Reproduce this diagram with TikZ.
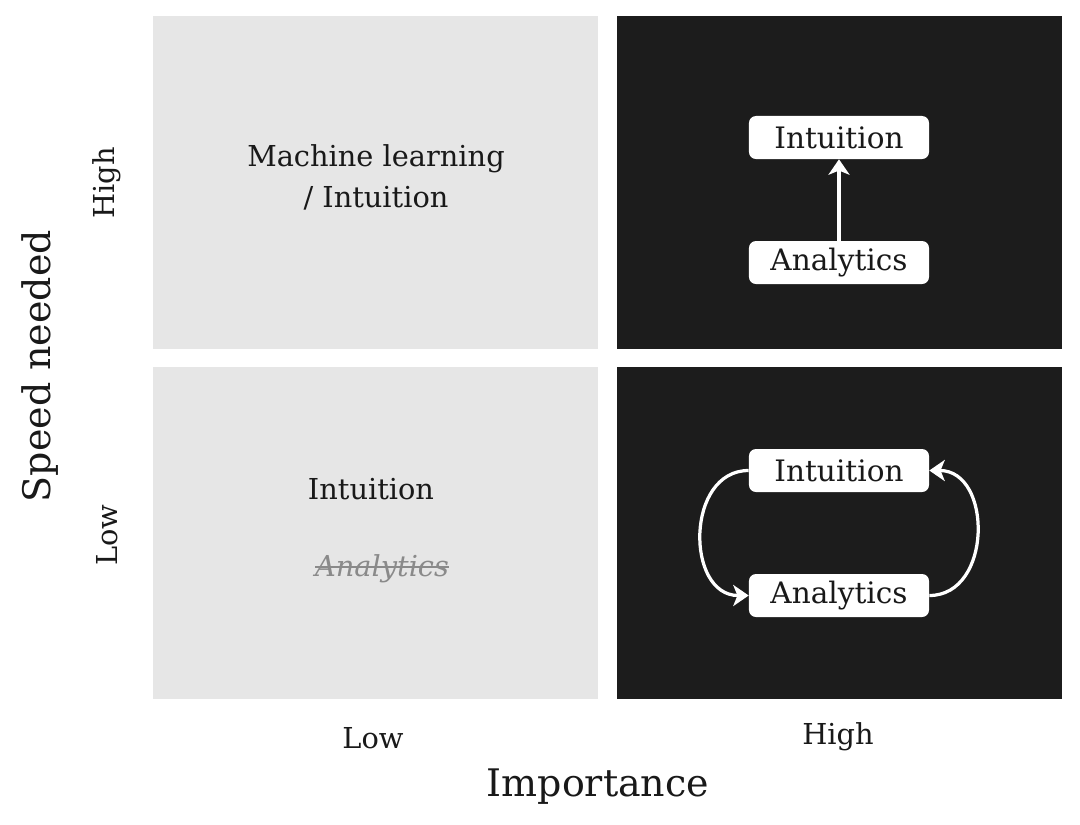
\documentclass[tikz,border=0pt]{standalone}
\usepackage{fontspec}
\setmainfont{DejaVu Serif}
\usetikzlibrary{arrows.meta}
\definecolor{lightq}{HTML}{E6E6E6}
\definecolor{darkq}{HTML}{1C1C1C}
\definecolor{struck}{HTML}{8A8A8A}
\newcommand{\crossout}[1]{\setbox0\hbox{#1}\rlap{\raisebox{0.3em}{\rule{\wd0}{1.4pt}}}\box0}
\tikzset{
  quad/.style={inner sep=0, minimum width=11.125cm, minimum height=8.3cm},
  lbl/.style={font=\fontsize{20.5}{29}\selectfont, text=black!90, align=center},
  axis/.style={font=\fontsize{27}{32}\selectfont, text=black!90},
  tag/.style={fill=white, rounded corners=5pt, inner sep=0, minimum width=4.5cm,
    minimum height=1.075cm, font=\fontsize{21}{25}\selectfont, text=black!90},
  flow/.style={white, line width=2.3pt, -{Stealth[length=11pt,width=15pt,inset=3pt]}}
}
\begin{document}
\begin{tikzpicture}[x=0.025cm, y=-0.025cm]
  \useasboundingbox (0,0) rectangle (1080,824);
  % quadrants
  \node[quad, fill=lightq] (tl) at (375.5, 182.5) {};
  \node[quad, fill=darkq] (tr) at (839.5, 182.5) {};
  \node[quad, fill=lightq] (bl) at (375.5, 533) {};
  \node[quad, fill=darkq] (br) at (839.5, 533) {};
  % low importance
  \node[lbl] (ml) at (376, 177) {Machine learning\\/ Intuition};
  \node[lbl] (int) at (371, 489) {Intuition};
  \node[lbl, text=struck, font=\fontsize{20.5}{25}\selectfont\itshape] (ana) at (382, 569) {\crossout{Analytics}};
  % high importance, high speed
  \node[tag] (i1) at (839, 137.5) {Intuition};
  \node[tag] (a1) at (839, 262.5) {Analytics};
  \draw[flow] (a1) -- (i1);
  % high importance, low speed
  \node[tag] (i2) at (839, 470.5) {Intuition};
  \node[tag] (a2) at (839, 595.5) {Analytics};
  \draw[flow] (i2.west) to[out=180, in=180, looseness=1.3] (a2.west);
  \draw[flow] (a2.east) to[out=0, in=0, looseness=1.3] (i2.east);
  % axes
  \node[lbl, rotate=90] (yhi) at (107, 183) {High};
  \node[lbl, rotate=90] (ylo) at (107, 535) {Low};
  \node[axis, rotate=90] (yax) at (40, 366) {Speed needed};
  \node[lbl] (xlo) at (373, 738) {Low};
  \node[lbl] (xhi) at (838, 737) {High};
  \node[axis] (xax) at (598, 787) {Importance};
\end{tikzpicture}
\end{document}
